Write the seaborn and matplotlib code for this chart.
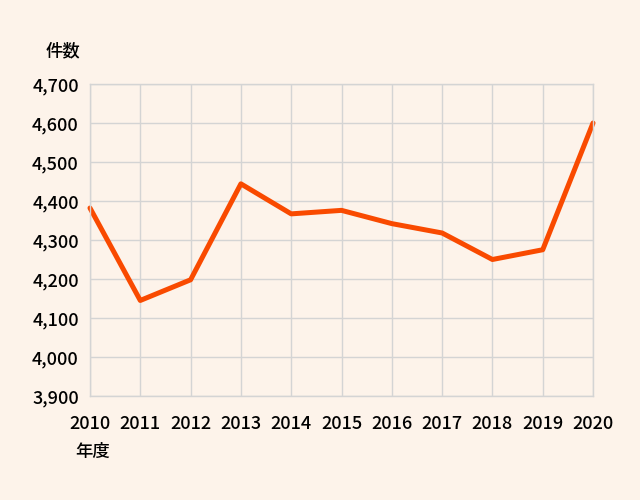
import numpy as np
import pandas as pd
import matplotlib
matplotlib.use("Agg")
import matplotlib.pyplot as plt
import seaborn as sns
from matplotlib.ticker import FuncFormatter

# data
years = [2010, 2011, 2012, 2013, 2014, 2015, 2016, 2017, 2018, 2019, 2020]
counts = [4382, 4145, 4198, 4444, 4367, 4376, 4342, 4318, 4250, 4275, 4600]
y_ticks = [3900, 4000, 4100, 4200, 4300, 4400, 4500, 4600, 4700]

df = pd.DataFrame({"year": years, "count": counts})

bg = "#fdf3ea"
grid_col = "#d4d4d4"
line_col = "#f94a00"

sns.set_theme(style="whitegrid")
plt.rcParams['font.family'] = ['Noto Sans CJK JP', 'DejaVu Sans']
plt.rcParams['font.weight'] = 'medium'

fig = plt.figure(figsize=(6.4, 5), dpi=100, facecolor=bg)
ax = fig.add_axes([0.1406, 0.208, 0.786, 0.624])
ax.set_facecolor(bg)

sns.lineplot(data=df, x="year", y="count", color=line_col, linewidth=3.6, ax=ax)
for ln in ax.lines:
    ln.set_clip_on(False)

ax.set_xlim(2010, 2020)
ax.set_ylim(3900, 4700)
ax.set_xticks(years)
ax.set_yticks(y_ticks)
ax.yaxis.set_major_formatter(FuncFormatter(lambda v, p: f"{int(v):,}"))
ax.grid(True, color=grid_col, linewidth=1)
for s in ax.spines.values():
    s.set_color(grid_col)
    s.set_linewidth(1)
ax.tick_params(axis="x", length=0, pad=14, labelsize=13, colors="#000000")
ax.tick_params(axis="y", length=0, pad=8, labelsize=13, colors="#000000")
ax.set_xlabel("")
ax.set_ylabel("")

fig.text(0.125, 0.898, "件数", fontsize=12.5, ha="right", va="center", color="#000000")
fig.text(0.117, 0.096, "年度", fontsize=12.5, ha="left", va="center", color="#000000")

fig.savefig("out.png", dpi=100, facecolor=bg)
